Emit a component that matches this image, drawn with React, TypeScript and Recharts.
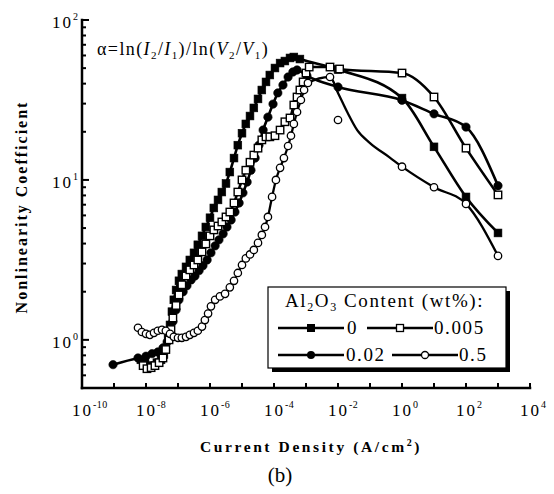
import { LineChart, Line, XAxis, YAxis } from 'recharts'

const SERIF = '"Liberation Serif", "Times New Roman", Times, serif'
const W = 554
const H = 494

// Current density as log10(A/cm²), nonlinearity coefficient alpha, per Al2O3 content
const J_0 = [-8.16, -8.03, -7.91, -7.78, -7.66, -7.53, -7.44, -7.38, -7.31, -7.25, -7.19, -7.13, -7.06, -6.97, -6.88, -6.75, -6.63, -6.5, -6.38, -6.25, -6.13, -6.0, -5.88, -5.75, -5.63, -5.5, -5.38, -5.25, -5.13, -5.0, -4.88, -4.75, -4.63, -4.5, -4.38, -4.25, -4.13, -3.97, -3.81, -3.66, -3.5, -3.38, -3.19, -2.0, 0, 1, 2, 3]
const A_0 = [0.75, 0.71, 0.68, 0.69, 0.72, 0.75, 0.81, 0.89, 1.03, 1.24, 1.5, 1.78, 2.05, 2.34, 2.58, 2.86, 3.16, 3.5, 3.93, 4.47, 5.08, 5.8, 6.68, 7.5, 8.4, 9.5, 11.2, 13.7, 16.5, 19.6, 22.4, 25.1, 28.2, 32.1, 36.5, 41.0, 45.3, 50.1, 53.8, 55.4, 57.9, 58.7, 57.0, 49, 32.5, 16.1, 7.83, 4.66]

const J_005 = [-8.09, -7.97, -7.84, -7.72, -7.59, -7.47, -7.38, -7.28, -7.22, -7.16, -7.06, -6.97, -6.88, -6.75, -6.63, -6.5, -6.38, -6.25, -6.13, -6.0, -5.88, -5.75, -5.63, -5.5, -5.38, -5.25, -5.13, -5.0, -4.88, -4.75, -4.63, -4.5, -4.38, -4.25, -4.13, -3.97, -3.81, -3.66, -3.5, -3.38, -3.28, -3.19, -3.09, -3.0, -2.9, -2.25, -1.95, 0, 1, 2, 3]
const A_005 = [0.69, 0.66, 0.67, 0.69, 0.72, 0.77, 0.87, 1.0, 1.16, 1.37, 1.64, 1.91, 2.21, 2.51, 2.74, 2.94, 3.16, 3.55, 3.98, 4.47, 4.87, 5.15, 5.46, 5.87, 6.3, 7.18, 8.4, 10.0, 11.5, 12.9, 14.3, 15.8, 17.8, 18.6, 18.6, 18.9, 20.5, 23.1, 24.4, 29.4, 33.0, 36.5, 41.0, 46.6, 50.8, 50.8, 49.4, 46.6, 33.0, 15.8, 8.06]

const J_002 = [-9.03, -8.25, -8.0, -7.81, -7.63, -7.47, -7.34, -7.25, -7.16, -7.06, -6.97, -6.84, -6.72, -6.59, -6.47, -6.34, -6.22, -6.09, -5.97, -5.84, -5.72, -5.59, -5.47, -5.34, -5.22, -5.09, -4.97, -4.84, -4.72, -4.59, -4.47, -4.34, -4.19, -4.03, -3.88, -3.72, -3.56, -3.41, -3.28, -2.97, -2.0, 0, 1, 2, 3]
const A_002 = [0.70, 0.77, 0.79, 0.82, 0.84, 0.89, 0.97, 1.11, 1.30, 1.54, 1.78, 2.0, 2.18, 2.37, 2.51, 2.71, 2.91, 3.16, 3.5, 3.87, 4.22, 4.6, 5.08, 5.62, 6.3, 7.18, 8.3, 9.7, 11.5, 13.7, 16.5, 20.5, 24.7, 29.8, 35.0, 39.2, 44.0, 47.3, 48.7, 44.7, 38.1, 31.5, 25.9, 21.4, 9.2]

const J_05 = [-8.25, -8.13, -8.0, -7.88, -7.75, -7.63, -7.5, -7.38, -7.25, -7.13, -7.0, -6.88, -6.75, -6.63, -6.5, -6.38, -6.25, -6.16, -6.06, -5.97, -5.84, -5.69, -5.53, -5.38, -5.25, -5.13, -5.0, -4.88, -4.75, -4.63, -4.5, -4.38, -4.28, -4.19, -4.06, -3.94, -3.81, -3.69, -3.56, -3.47, -3.38, -3.28, -3.16, -3.06, -2.94, -2.25, -2.0, 0, 1, 2, 3]
const A_05 = [1.19, 1.12, 1.09, 1.075, 1.106, 1.14, 1.155, 1.14, 1.09, 1.044, 1.03, 1.03, 1.044, 1.075, 1.106, 1.14, 1.21, 1.33, 1.46, 1.62, 1.78, 1.87, 1.94, 2.13, 2.34, 2.62, 2.94, 3.23, 3.42, 3.65, 4.04, 4.53, 5.08, 5.87, 7.83, 10.0, 11.9, 13.7, 16.3, 18.9, 22.4, 26.6, 31.6, 36.5, 40.4, 44.0, 23.7, 12.1, 9.0, 7.08, 3.35]

// smoothed curve for 0.5 wt% past its maximum (the 1e-2 point sits off the fit)
const J_05_FIT = [-2.0, -1.7, -1.4, -1.0, -0.4]
const A_05_FIT = [35, 26.3, 20.5, 17.0, 13.9]

const X_TICKS = [-10, -9, -8, -7, -6, -5, -4, -3, -2, -1, 0, 1, 2, 3, 4].map((e) => Math.pow(10, e))
const Y_TICKS = [0.6, 0.7, 0.8, 0.9, 1, 2, 3, 4, 5, 6, 7, 8, 9, 10, 20, 30, 40, 50, 60, 70, 80, 90, 100]

const toPoints = (j: number[], a: number[]) => j.map((e, i) => ({ x: Math.pow(10, e), y: a[i] }))

const s0 = toPoints(J_0, A_0)
const s005 = toPoints(J_005, A_005)
const s002 = toPoints(J_002, A_002)
const s05 = toPoints(J_05, A_05)
const s05Curve = s05
  .filter((_, i) => J_05[i] !== -2.0)
  .concat(toPoints(J_05_FIT, A_05_FIT))
  .sort((p, q) => p.x - q.x)

type DotProps = { cx?: number; cy?: number; index?: number }

const square = (filled: boolean) => (p: DotProps) => {
  if (p.cx == null || p.cy == null) return <g key={p.index} />
  const s = filled ? 7.8 : 7.4
  return (
    <rect
      key={p.index}
      x={p.cx - s / 2}
      y={p.cy - s / 2}
      width={s}
      height={s}
      fill={filled ? '#000' : '#fff'}
      stroke="#000"
      strokeWidth={filled ? 0.6 : 1.4}
    />
  )
}

const circle = (filled: boolean) => (p: DotProps) => {
  if (p.cx == null || p.cy == null) return <g key={p.index} />
  return (
    <circle
      key={p.index}
      cx={p.cx}
      cy={p.cy}
      r={filled ? 4.2 : 3.7}
      fill={filled ? '#000' : '#fff'}
      stroke="#000"
      strokeWidth={filled ? 0.6 : 1.3}
    />
  )
}

function XTick({ x, y, payload, side }: any) {
  const e = Math.round(Math.log10(payload.value))
  const dir = side === 'top' ? 1 : -1
  return (
    <g>
      <line x1={x} x2={x} y1={y} y2={y + dir * 5} stroke="#000" strokeWidth={2} />
      {side === 'bottom' && e % 2 === 0 && (
        <text x={x - 10} y={y + 28} fontFamily={SERIF} fontSize={17} letterSpacing={2} fill="#000">
          10
          <tspan dy={-8} fontSize={10} letterSpacing={0.5}>
            {e}
          </tspan>
        </text>
      )}
    </g>
  )
}

function YTick({ x, y, payload, side }: any) {
  const e = Math.log10(payload.value)
  const major = Math.abs(e - Math.round(e)) < 1e-6
  const dir = side === 'left' ? 1 : -1
  return (
    <g>
      <line x1={x} x2={x + dir * (major ? 7 : 4)} y1={y} y2={y} stroke="#000" strokeWidth={2} />
      {side === 'left' && major && (
        <text x={x - 4} y={y + 8} textAnchor="end" fontFamily={SERIF} fontSize={17} letterSpacing={2} fill="#000">
          10
          <tspan dy={-8} fontSize={10} letterSpacing={0}>
            {Math.round(e)}
          </tspan>
        </text>
      )}
    </g>
  )
}

const axisLine = { stroke: '#000', strokeWidth: 2.5, strokeLinecap: 'square' as const }

function LegendSample({ x, y, marker }: { x: number; y: number; marker: 'fs' | 'os' | 'fc' | 'oc' }) {
  return (
    <g>
      <line x1={x - 33} x2={x + 33} y1={y} y2={y} stroke="#000" strokeWidth={2.5} />
      {marker === 'fs' && <rect x={x - 4} y={y - 4} width={8} height={8} fill="#000" />}
      {marker === 'os' && <rect x={x - 3.5} y={y - 3.5} width={7} height={7} fill="#fff" stroke="#000" strokeWidth={1.3} />}
      {marker === 'fc' && <circle cx={x} cy={y} r={4} fill="#000" />}
      {marker === 'oc' && <circle cx={x} cy={y} r={3.5} fill="#fff" stroke="#000" strokeWidth={1.3} />}
    </g>
  )
}

export default function App() {
  return (
    <div style={{ position: 'absolute', left: 0, top: 0, width: W, height: H, background: '#fff' }}>
      <LineChart width={W} height={H} margin={{ top: 20, right: 24, bottom: 76, left: 22 }}>
        <XAxis
          xAxisId="b"
          type="number"
          dataKey="x"
          scale="log"
          domain={[1e-10, 1e4]}
          allowDataOverflow
          ticks={X_TICKS}
          interval={0}
          tickSize={0}
          tickMargin={0}
          tickLine={false}
          axisLine={axisLine}
          height={30}
          tick={(p: any) => <XTick {...p} side="bottom" />}
        />
        <XAxis
          xAxisId="t"
          orientation="top"
          type="number"
          dataKey="x"
          scale="log"
          domain={[1e-10, 1e4]}
          allowDataOverflow
          ticks={X_TICKS}
          interval={0}
          tickSize={0}
          tickMargin={0}
          tickLine={false}
          axisLine={axisLine}
          height={0}
          tick={(p: any) => <XTick {...p} side="top" />}
        />
        <YAxis
          yAxisId="l"
          type="number"
          scale="log"
          domain={[0.5, 100]}
          allowDataOverflow
          ticks={Y_TICKS}
          interval={0}
          tickSize={0}
          tickMargin={0}
          tickLine={false}
          axisLine={axisLine}
          width={60}
          tick={(p: any) => <YTick {...p} side="left" />}
        />
        <YAxis
          yAxisId="r"
          orientation="right"
          type="number"
          scale="log"
          domain={[0.5, 100]}
          allowDataOverflow
          ticks={Y_TICKS}
          interval={0}
          tickSize={0}
          tickMargin={0}
          tickLine={false}
          axisLine={axisLine}
          width={0}
          tick={(p: any) => <YTick {...p} side="right" />}
        />

        <Line xAxisId="b" yAxisId="l" data={s002} dataKey="y" type="monotone" stroke="#000" strokeWidth={2.6}
          dot={circle(true)} activeDot={false} isAnimationActive={false} />
        <Line xAxisId="b" yAxisId="l" data={s0} dataKey="y" type="monotone" stroke="#000" strokeWidth={2.6}
          dot={square(true)} activeDot={false} isAnimationActive={false} />
        <Line xAxisId="b" yAxisId="l" data={s005} dataKey="y" type="monotone" stroke="#000" strokeWidth={2.6}
          dot={square(false)} activeDot={false} isAnimationActive={false} />
        <Line xAxisId="b" yAxisId="l" data={s05Curve} dataKey="y" type="monotone" stroke="#000" strokeWidth={2.3}
          dot={false} activeDot={false} isAnimationActive={false} />
        <Line xAxisId="b" yAxisId="l" data={s05} dataKey="y" type="monotone" stroke="none"
          dot={circle(false)} activeDot={false} isAnimationActive={false} />
      </LineChart>

      <svg width={W} height={H} style={{ position: 'absolute', left: 0, top: 0, pointerEvents: 'none' }}>
        <g fontFamily={SERIF} fill="#000">
          <text x={97} y={55} fontSize={18} letterSpacing={1.4}>
            α=ln(<tspan fontStyle="italic">I</tspan>
            <tspan dy={4} fontSize={11}>2</tspan>
            <tspan dy={-4}>/</tspan>
            <tspan fontStyle="italic">I</tspan>
            <tspan dy={4} fontSize={11}>1</tspan>
            <tspan dy={-4}>)/ln(</tspan>
            <tspan fontStyle="italic">V</tspan>
            <tspan dy={4} fontSize={11}>2</tspan>
            <tspan dy={-4}>/</tspan>
            <tspan fontStyle="italic">V</tspan>
            <tspan dy={4} fontSize={11}>1</tspan>
            <tspan dy={-4}>)</tspan>
          </text>

          <text transform="translate(27,207) rotate(-90)" textAnchor="middle" fontSize={16} fontWeight="bold" letterSpacing={2}>
            Nonlinearity Coefficient
          </text>
          <text x={311} y={452} textAnchor="middle" fontSize={15.5} fontWeight="bold" letterSpacing={2.6}>
            Current Density (A/cm<tspan dy={-6} fontSize={10}>2</tspan>
            <tspan dy={6}>)</tspan>
          </text>
          <text x={280} y={482} textAnchor="middle" fontSize={21}>
            (b)
          </text>

          <rect x={272} y={291} width={238} height={81} fill="#000" />
          <rect x={268} y={287} width={238} height={81} fill="#fff" stroke="#000" strokeWidth={1.2} />
          <text x={285} y={307} fontSize={19} letterSpacing={1.6}>
            Al<tspan dy={4} fontSize={12}>2</tspan>
            <tspan dy={-4}>O</tspan>
            <tspan dy={4} fontSize={12}>3</tspan>
            <tspan dy={-4}> Content (wt%):</tspan>
          </text>
          <LegendSample x={311} y={328} marker="fs" />
          <text x={347} y={334} fontSize={19} letterSpacing={1.6}>0</text>
          <LegendSample x={400} y={328} marker="os" />
          <text x={434} y={334} fontSize={19} letterSpacing={1.6}>0.005</text>
          <LegendSample x={311} y={355} marker="fc" />
          <text x={346} y={361} fontSize={19} letterSpacing={1.6}>0.02</text>
          <LegendSample x={425} y={355} marker="oc" />
          <text x={459} y={361} fontSize={19} letterSpacing={1.6}>0.5</text>
        </g>
      </svg>
    </div>
  )
}
